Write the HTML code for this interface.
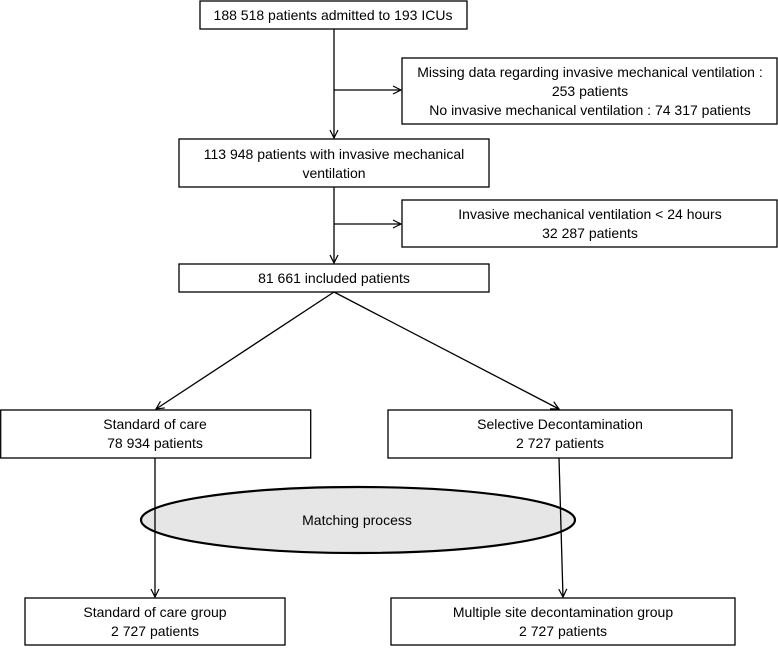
<!DOCTYPE html>
<html><head><style>
body{margin:0;background:#fff;}
svg text{font-family:"Liberation Sans",sans-serif;font-size:14px;fill:#000;text-anchor:middle;}
</style></head><body>
<svg width="778" height="646" viewBox="0 0 778 646" xmlns="http://www.w3.org/2000/svg">
<defs><marker id="a" markerWidth="10" markerHeight="10" refX="9" refY="5" orient="auto" markerUnits="userSpaceOnUse"><path d="M1,1 L9,5 L1,9" fill="none" stroke="#000" stroke-width="1.2"/></marker></defs>
<g fill="#fff" stroke="#000" stroke-width="1.3">
<rect x="200" y="1" width="267" height="28"/>
<rect x="402" y="58" width="375" height="66"/>
<rect x="179" y="139" width="310" height="48"/>
<rect x="402" y="200" width="375" height="47"/>
<rect x="179" y="264" width="310" height="28"/>
<rect x="0.7" y="410" width="310" height="48"/>
<rect x="388" y="410" width="344" height="48"/>
<rect x="25" y="598" width="260" height="47"/>
<rect x="391" y="598" width="344" height="47"/>
</g>
<ellipse cx="358" cy="520" rx="217" ry="33" fill="#e6e6e6" stroke="#000" stroke-width="2.2"/>
<g stroke="#000" stroke-width="1.3" fill="none">
<line x1="334" y1="29" x2="334" y2="138" marker-end="url(#a)"/>
<line x1="334" y1="90" x2="401" y2="90" marker-end="url(#a)"/>
<line x1="334" y1="187" x2="334" y2="263" marker-end="url(#a)"/>
<line x1="334" y1="224" x2="401" y2="224" marker-end="url(#a)"/>
<line x1="334" y1="292" x2="156" y2="409" marker-end="url(#a)"/>
<line x1="334" y1="292" x2="559" y2="409" marker-end="url(#a)"/>
<line x1="155" y1="458" x2="155" y2="597" marker-end="url(#a)"/>
<line x1="559" y1="458" x2="563" y2="597" marker-end="url(#a)"/>
</g>
<text x="333" y="20">188 518 patients admitted to 193 ICUs</text>
<text x="590" y="77">Missing data regarding invasive mechanical ventilation :</text>
<text x="590" y="96">253 patients</text>
<text x="590" y="115">No invasive mechanical ventilation : 74 317 patients</text>
<text x="334" y="159">113 948 patients with invasive mechanical</text>
<text x="334" y="178">ventilation</text>
<text x="590" y="219">Invasive mechanical ventilation &lt; 24 hours</text>
<text x="590" y="238">32 287 patients</text>
<text x="334" y="283">81 661 included patients</text>
<text x="155" y="429">Standard of care</text>
<text x="155" y="448">78 934 patients</text>
<text x="560" y="429">Selective Decontamination</text>
<text x="560" y="448">2 727 patients</text>
<text x="357" y="525">Matching process</text>
<text x="155" y="617">Standard of care group</text>
<text x="155" y="636">2 727 patients</text>
<text x="563" y="617">Multiple site decontamination group</text>
<text x="563" y="636">2 727 patients</text>
</svg>
</body></html>
